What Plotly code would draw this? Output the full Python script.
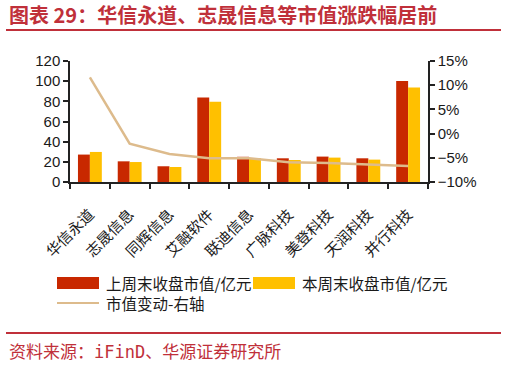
import plotly.graph_objects as go

categories = ["华信永道", "志晟信息", "同辉信息", "艾融软件", "联迪信息", "广脉科技", "美登科技", "天润科技", "并行科技"]
last_week = [27.2, 20.5, 15.6, 83.7, 25.0, 23.5, 25.2, 23.5, 100.2]
this_week = [29.8, 19.8, 14.9, 79.7, 23.5, 21.8, 24.2, 22.2, 93.6]
change_pct = [11.6, -2.1, -4.2, -5.1, -5.1, -5.9, -6.1, -6.4, -6.7]

RED = "#C82800"
YELLOW = "#FFC000"
TAN = "#DDBB8C"
TITLE_RED = "#C0303A"
CJK = "Noto Sans CJK SC"
LAT = "Liberation Sans, Arial, " + CJK

fig = go.Figure()
fig.add_trace(go.Bar(x=categories, y=last_week, name="上周末收盘市值/亿元",
                     marker=dict(color=RED, line=dict(width=0))))
fig.add_trace(go.Bar(x=categories, y=this_week, name="本周末收盘市值/亿元",
                     marker=dict(color=YELLOW, line=dict(width=0))))
fig.add_trace(go.Scatter(x=categories, y=change_pct, name="市值变动-右轴", mode="lines",
                         line=dict(color=TAN, width=2.5), yaxis="y2"))

W, H = 507, 366
L, R, T, B = 70, 79, 61, 184
PW = W - L - R
PH = H - T - B

fig.update_layout(
    width=W, height=H,
    margin=dict(l=L, r=R, t=T, b=B, pad=0),
    paper_bgcolor="white", plot_bgcolor="white",
    showlegend=False,
    barmode="group", bargap=0.4, bargroupgap=0,
    font=dict(family=LAT, size=15, color="#1a1a1a"),
    xaxis=dict(
        type="category", showline=True, linecolor="#222", linewidth=1.5,
        ticks="outside", ticklen=5, tickwidth=1.5, tickcolor="#222",
        tickson="boundaries", tickangle=-45, ticklabelstandoff=16,
        tickfont=dict(family=CJK, size=15, color="#1a1a1a"),
        showgrid=False, zeroline=False,
    ),
    yaxis=dict(
        range=[0, 120], dtick=20, showline=True, linecolor="#222", linewidth=1.5,
        ticks="outside", ticklen=5, tickwidth=1.5, tickcolor="#222",
        showgrid=False, zeroline=False, tickfont=dict(size=15),
    ),
    yaxis2=dict(
        range=[-10, 15], dtick=5, ticksuffix="%", overlaying="y", side="right",
        showline=True, linecolor="#222", linewidth=1.5,
        ticks="outside", ticklen=5, tickwidth=1.5, tickcolor="#222",
        showgrid=False, zeroline=False, tickfont=dict(size=15),
    ),
)

def px_x(x):
    return (x - L) / PW

def px_y(y):
    return (H - B - y) / PH

shapes = []
annotations = []
# title
annotations.append(dict(xref="paper", yref="paper", x=px_x(7), y=px_y(15), xanchor="left", yanchor="middle",
                        text="<b>图表 29：华信永道、志晟信息等市值涨跌幅居前</b>", showarrow=False,
                        font=dict(family=CJK, size=20, color=TITLE_RED)))
shapes.append(dict(type="line", xref="paper", yref="paper", x0=px_x(6), x1=px_x(501), y0=px_y(30), y1=px_y(30),
                   line=dict(color=TITLE_RED, width=2)))
# legend
legend_items = [
    ("rect", RED, 57, 283, "上周末收盘市值/亿元"),
    ("rect", YELLOW, 253, 283, "本周末收盘市值/亿元"),
    ("line", TAN, 57, 303, "市值变动-右轴"),
]
for kind, col, x0, yc, label in legend_items:
    if kind == "rect":
        shapes.append(dict(type="rect", xref="paper", yref="paper", x0=px_x(x0), x1=px_x(x0 + 42),
                           y0=px_y(yc - 6), y1=px_y(yc + 6), fillcolor=col, line=dict(width=0)))
    else:
        shapes.append(dict(type="line", xref="paper", yref="paper", x0=px_x(x0), x1=px_x(x0 + 42),
                           y0=px_y(yc), y1=px_y(yc), line=dict(color=col, width=2)))
    annotations.append(dict(xref="paper", yref="paper", x=px_x(x0 + 47), y=px_y(yc), xanchor="left", yanchor="middle",
                            text=label, showarrow=False, font=dict(family=CJK, size=15.5, color="#1a1a1a")))
# bottom rule + source
shapes.append(dict(type="line", xref="paper", yref="paper", x0=px_x(6), x1=px_x(501), y0=px_y(333), y1=px_y(333),
                   line=dict(color=TITLE_RED, width=2)))
annotations.append(dict(xref="paper", yref="paper", x=px_x(7), y=px_y(352), xanchor="left", yanchor="middle",
                        text="资料来源：iFinD、华源证券研究所", showarrow=False,
                        font=dict(family="DejaVu Sans Mono, " + CJK, size=17, color=TITLE_RED)))

fig.update_layout(shapes=shapes, annotations=annotations)
fig.write_html("out.html")
